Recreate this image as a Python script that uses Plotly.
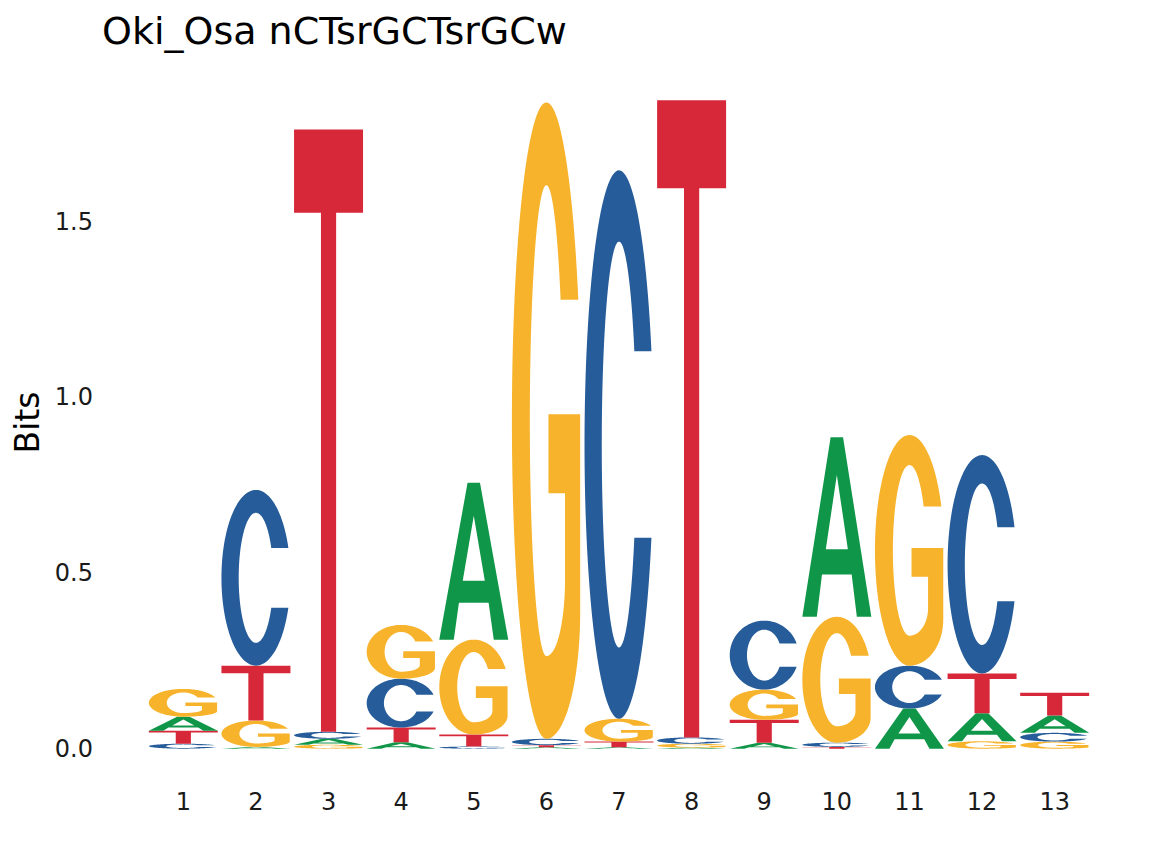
import numpy as np
import plotly.graph_objects as go

# ---------------- data (bits per letter per position) ----------------
positions = list(range(1, 14))
tick_labels = [str(p) for p in positions]
A_bits = [0.040, 0.005, 0.017, 0.018, 0.446, 0.004, 0.004, 0.003, 0.017, 0.511, 0.114, 0.080, 0.049]
C_bits = [0.014, 0.500, 0.020, 0.139, 0.006, 0.018, 1.560, 0.018, 0.196, 0.012, 0.122, 0.621, 0.025]
G_bits = [0.079, 0.075, 0.011, 0.153, 0.270, 1.810, 0.065, 0.011, 0.086, 0.358, 0.656, 0.021, 0.020]
T_bits = [0.037, 0.156, 1.713, 0.042, 0.034, 0.006, 0.016, 1.812, 0.065, 0.005, 0.000, 0.113, 0.065]
y_ticks = [0.0, 0.5, 1.0, 1.5]
y_tick_text = ["0.0", "0.5", "1.0", "1.5"]
title_text = "Oki_Osa nCTsrGCTsrGCw"
colors = {"A": "#109648", "C": "#255C99", "G": "#F7B32B", "T": "#D62839"}

# ---------------- glyph templates in a unit box ----------------
def arc(cx, cy, rx, ry, a0, a1, n=60):
    t = np.linspace(a0, a1, n)
    return list(zip(cx + rx * np.cos(t), cy + ry * np.sin(t)))

def glyph_T():
    return [[(0, 1), (1, 1), (1, 0.862), (0.61, 0.862), (0.61, 0), (0.39, 0),
             (0.39, 0.862), (0, 0.862)]]

def glyph_A():
    outer = [(0, 0), (0.41, 1), (0.59, 1), (1, 0), (0.79, 0), (0.715, 0.236),
             (0.285, 0.236), (0.21, 0)]
    hole = [(0.34, 0.376), (0.5, 0.79), (0.66, 0.376)]
    return [outer, hole]

def glyph_C():
    rxo, ryo, rxi, ryi = 0.5, 0.5, 0.25, 0.37
    dy = 0.17
    to = np.arcsin(dy / ryo)
    ti = np.arcsin(dy / ryi)
    pts = arc(0.5, 0.5, rxo, ryo, to, 2 * np.pi - to, 120)
    pts += arc(0.5, 0.5, rxi, ryi, 2 * np.pi - ti, ti, 120)
    return [pts]

def glyph_G():
    rxo, ryo, rxi, ryi = 0.5, 0.5, 0.24, 0.37
    yt = 0.69
    to = np.arcsin((yt - 0.5) / ryo)
    ti = np.arcsin((yt - 0.5) / ryi)
    pts = arc(0.5, 0.5, rxo, ryo, to, 1.5 * np.pi, 120)
    pts += arc(0.5, 0.2, 0.49, 0.2, -0.5 * np.pi, 0, 40)
    pts += [(0.99, 0.51), (0.53, 0.51), (0.53, 0.386), (0.77, 0.386), (0.77, 0.25)]
    pts += arc(0.5, 0.25, 0.27, 0.12, 0, -0.5 * np.pi, 30)
    pts += arc(0.5, 0.5, rxi, ryi, -0.5 * np.pi, -2 * np.pi + ti, 120)
    return [pts]

glyphs = {"A": glyph_A(), "C": glyph_C(), "G": glyph_G(), "T": glyph_T()}

def glyph_path(letter, xc, y0, h, w=0.95):
    parts = []
    for sub in glyphs[letter]:
        coords = [(xc - w / 2 + u * w, y0 + v * h) for u, v in sub]
        s = "M" + "L".join(f"{x:.5f},{y:.5f}" for x, y in coords) + "Z"
        parts.append(s)
    return " ".join(parts)

fig = go.Figure()
# invisible trace to anchor the axes
fig.add_trace(go.Scatter(x=positions, y=[0] * len(positions), mode="markers",
                         marker=dict(opacity=0), hoverinfo="skip", showlegend=False))

shapes = []
for i, p in enumerate(positions):
    stack = [("A", A_bits[i]), ("C", C_bits[i]), ("G", G_bits[i]), ("T", T_bits[i])]
    stack.sort(key=lambda t: t[1])
    base = 0.0
    for letter, h in stack:
        if h <= 0:
            continue
        shapes.append(dict(type="path", xref="x", yref="y",
                           path=glyph_path(letter, p, base, h),
                           fillcolor=colors[letter], fillrule="evenodd",
                           line=dict(width=0), layer="above"))
        base += h

W, H = 1152, 865
OFF = 8  # page offset
L, R, T, B = 101.6 - OFF, 1152 - 1136.4 + OFF, 67.5 - OFF, 865 - 781.4 + OFF

fig.update_layout(
    width=W, height=H,
    margin=dict(l=L, r=R, t=T, b=B, autoexpand=False),
    paper_bgcolor="white", plot_bgcolor="white",
    shapes=shapes,
    font=dict(family="DejaVu Sans", color="black"),
    title=dict(text=title_text, x=0, xref="paper", xanchor="left",
               y=1 - (31 - OFF) / H, yref="container", yanchor="middle",
               font=dict(family="DejaVu Sans", size=38, color="black")),
    xaxis=dict(range=[-0.12, 14.12], tickvals=positions, ticktext=tick_labels,
               showgrid=False, zeroline=False, showline=False, ticks="",
               tickfont=dict(size=24, color="#1a1a1a"), ticklabelstandoff=4,
               fixedrange=True),
    yaxis=dict(range=[-0.092, 1.936], tickvals=y_ticks, ticktext=y_tick_text,
               showgrid=False, zeroline=False, showline=False, ticks="",
               tickfont=dict(size=24, color="#1a1a1a"), ticklabelstandoff=8,
               fixedrange=True),
    annotations=[dict(text="Bits", textangle=-90, xref="paper", yref="paper",
                      x=(27.5 - OFF - L) / (W - L - R),
                      y=(H - B - (422.5 - OFF)) / (H - T - B),
                      xanchor="center", yanchor="middle", showarrow=False,
                      font=dict(family="DejaVu Sans", size=33, color="black"))],
    showlegend=False,
)

fig.write_html("out.html")
